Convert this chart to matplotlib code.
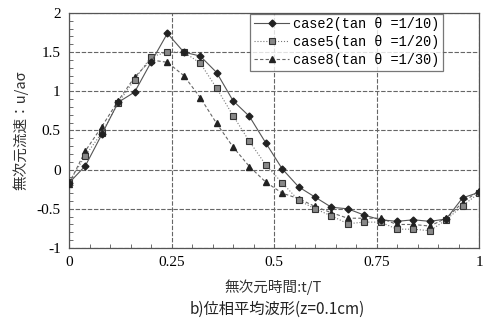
import matplotlib
matplotlib.use("Agg")
import matplotlib.pyplot as plt
import numpy as np
from matplotlib.ticker import MultipleLocator

t = [k / 25 for k in range(26)]
case2 = [-0.17, 0.05, 0.45, 0.86, 0.99, 1.37, 1.74, 1.50, 1.45, 1.24, 0.88, 0.68, 0.34,
         0.01, -0.22, -0.35, -0.48, -0.50, -0.58, -0.64, -0.66, -0.64, -0.66, -0.63, -0.36, -0.29]
case5 = [-0.16, 0.18, 0.47, 0.85, 1.15, 1.44, 1.50, 1.50, 1.36, 1.04, 0.69, 0.36, 0.06,
         -0.17, -0.39, -0.50, -0.59, -0.69, -0.67, -0.67, -0.76, -0.76, -0.78, -0.64, -0.46, -0.30]
case8 = [-0.18, 0.24, 0.55, 0.88, 1.18, 1.40, 1.37, 1.20, 0.92, 0.59, 0.29, 0.04, -0.16,
         -0.30, -0.37, -0.47, -0.55, -0.62, -0.62, -0.62, -0.70, -0.70, -0.72, -0.62, -0.42, -0.27]
labels = ["case2(tan θ =1/10)", "case5(tan θ =1/20)", "case8(tan θ =1/30)"]
xticks = [0, 0.25, 0.5, 0.75, 1]
xticklabels = ["0", "0.25", "0.5", "0.75", "1"]
yticks = [-1, -0.5, 0, 0.5, 1, 1.5, 2]
yticklabels = ["-1", "-0.5", "0", "0.5", "1", "1.5", "2"]

cjk = ["Noto Sans CJK JP", "DejaVu Sans"]
serif = ["Liberation Serif", "DejaVu Serif"]

fig = plt.figure(figsize=(4.84, 3.24), dpi=100)
ax = fig.add_axes([0.1426, 0.2346, 0.8471, 0.7254])

ax.plot(t, case8, color="#666666", lw=0.8, ls=(0, (3, 2)), marker="^", ms=5,
        mfc="#222222", mec="#222222", label=labels[2], zorder=3)
ax.plot(t, case5, color="#777777", lw=0.8, ls=":", marker="s", ms=5,
        mfc="#888888", mec="#333333", mew=0.8, label=labels[1], zorder=4)
ax.plot(t, case2, color="#555555", lw=0.8, ls="-", marker="D", ms=3.5,
        mfc="#222222", mec="#222222", label=labels[0], zorder=5)

ax.set_xlim(0, 1)
ax.set_ylim(-1, 2)
ax.set_xticks(xticks)
ax.set_xticklabels(xticklabels, fontfamily=serif, fontsize=11)
ax.set_yticks(yticks)
ax.set_yticklabels(yticklabels, fontfamily=serif, fontsize=11)
ax.xaxis.set_minor_locator(MultipleLocator(0.05))
ax.yaxis.set_minor_locator(MultipleLocator(0.1))
ax.tick_params(which="both", direction="in", color="#555555")
ax.tick_params(which="major", length=0, pad=6)
ax.tick_params(which="minor", length=3)
ax.grid(True, which="major", color="#666666", ls=(0, (4, 1.5)), lw=0.8)
for s in ax.spines.values():
    s.set_color("#555555")
    s.set_linewidth(0.9)

handles, labs = ax.get_legend_handles_labels()
order = [2, 1, 0]
leg = ax.legend([handles[i] for i in order], [labs[i] for i in order],
                loc="upper right", bbox_to_anchor=(0.912, 0.997),
                prop={"family": ["Liberation Mono", "DejaVu Sans Mono"], "size": 9.8},
                frameon=True, fancybox=False, edgecolor="#555555",
                handlelength=2.6, handletextpad=0.3, borderpad=0.25,
                labelspacing=0.3, borderaxespad=0)
leg.get_frame().set_linewidth(0.9)

ax.set_ylabel("無次元流速：u/aσ", fontfamily=cjk, fontsize=10.5, color="#333333", labelpad=6)
fig.text(0.565, 0.115, "無次元時間:t/T", fontfamily=cjk, fontsize=10.5,
         color="#333333", ha="center", va="center")
fig.text(0.572, 0.045, "b)位相平均波形(z=0.1cm)", fontfamily=cjk, fontsize=11,
         color="#222222", ha="center", va="center")

fig.savefig("out.png", dpi=100)
